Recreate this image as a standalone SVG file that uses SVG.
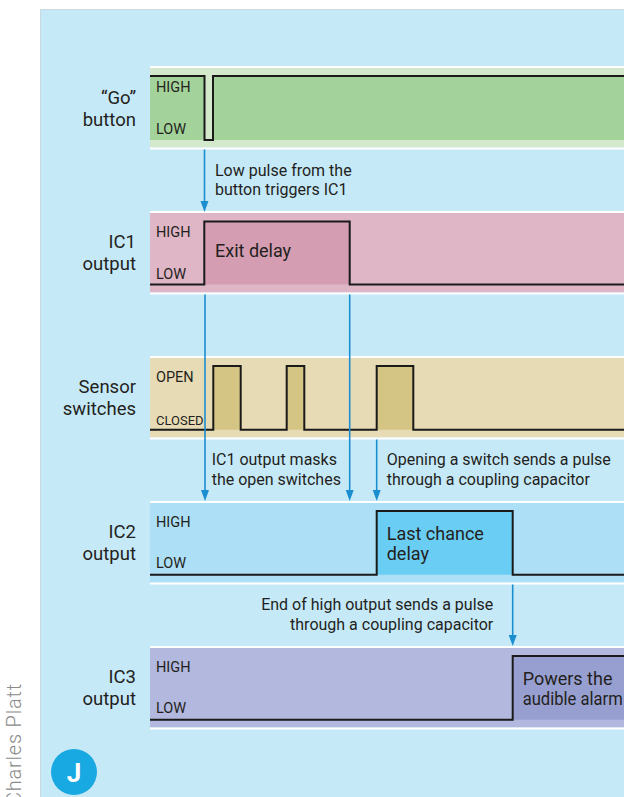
<svg xmlns="http://www.w3.org/2000/svg" width="624" height="797" viewBox="0 0 624 797">
  <style>
    text { font-family: Roboto, "Liberation Sans", sans-serif; fill: #231f20; }
    .name { font-size: 18.5px; text-anchor: end; }
    .lvl { font-size: 14.5px; }
    .lvl-s { font-size: 13px; }
    .pulse-label { font-size: 18px; }
    .note { font-size: 16px; }
    .sig { fill: none; stroke: #1a1a1a; stroke-width: 2; stroke-linejoin: miter; }
    .sep { fill: #ffffff; }
    .conn { stroke: #1b8ed0; stroke-width: 1.6; fill: none; marker-end: url(#arrow); }
  </style>
  <defs>
    <marker id="arrow" markerUnits="userSpaceOnUse" markerWidth="12" markerHeight="10" viewBox="0 -5 12 10" refX="7" refY="0" orient="auto">
      <path d="M0,-4 L11,0 L0,4 Z" fill="#1b8ed0"/>
    </marker>
  </defs>

  <!-- page and panel -->
  <rect x="0" y="0" width="624" height="797" fill="#ffffff"/>
  <rect x="40.5" y="9.5" width="600" height="800" fill="#c6e9f8" stroke="#cbd8de" stroke-width="1"/>

  <!-- credit -->
  <text transform="translate(21,683) rotate(-90)" text-anchor="end" font-size="20" font-weight="300" letter-spacing="0.8" style="fill:#8a8a8a">Charles Platt</text>

  <!-- figure badge -->
  <g id="badge">
    <circle cx="74" cy="772" r="23" fill="#19a9e2"/>
    <text x="74" y="781.5" text-anchor="middle" font-size="26" font-weight="bold" style="fill:#ffffff">J</text>
  </g>

  <!-- "Go" button trace -->
  <g id="go-button">
    <rect class="sep" x="150" y="66" width="474" height="2"/>
    <rect x="150" y="68" width="474" height="79.5" fill="#d4e8cb"/>
    <rect class="sep" x="150" y="147.5" width="474" height="2"/>
    <path d="M150,76 H204.5 V140 H150 Z M213,76 H624 V140 H213 Z" fill="#a3d39a"/>
    <path class="sig" d="M150,76 H204.5 V140 H213 V76 H624"/>
    <text class="lvl" x="156" y="91.7">HIGH</text>
    <text class="lvl" x="156" y="134.3">LOW</text>
    <text class="name" x="136" y="104">“Go”</text>
    <text class="name" x="136" y="126">button</text>
  </g>

  <!-- IC1 output trace -->
  <g id="ic1">
    <rect class="sep" x="150" y="211" width="474" height="2"/>
    <rect x="150" y="213" width="474" height="79.5" fill="#dfb6c6"/>
    <rect class="sep" x="150" y="292.5" width="474" height="2"/>
    <rect x="204.3" y="221.5" width="145.4" height="63" fill="#d49db1"/>
    <path class="sig" d="M150,284.5 H204.3 V221.5 H349.7 V284.5 H624"/>
    <text class="lvl" x="156" y="236.7">HIGH</text>
    <text class="lvl" x="156" y="279">LOW</text>
    <text class="pulse-label" x="215" y="257.3">Exit delay</text>
    <text class="name" x="136" y="248.3">IC1</text>
    <text class="name" x="136" y="270">output</text>
  </g>

  <!-- Sensor switches trace -->
  <g id="sensors">
    <rect class="sep" x="150" y="356" width="474" height="2"/>
    <rect x="150" y="358" width="474" height="79.5" fill="#e7dbb5"/>
    <rect class="sep" x="150" y="437.5" width="474" height="2"/>
    <path d="M213.3,366 H240.7 V429.7 H213.3 Z M286.7,366 H304.3 V429.7 H286.7 Z M376.7,366 H413.3 V429.7 H376.7 Z" fill="#d5c585"/>
    <path class="sig" d="M150,429.7 H213.3 V366 H240.7 V429.7 H286.7 V366 H304.3 V429.7 H376.7 V366 H413.3 V429.7 H624"/>
    <text class="lvl" x="156" y="381.7">OPEN</text>
    <text class="lvl-s" x="156" y="425">CLOSED</text>
    <text class="name" x="136" y="393.3">Sensor</text>
    <text class="name" x="136" y="415">switches</text>
  </g>

  <!-- IC2 output trace -->
  <g id="ic2">
    <rect class="sep" x="150" y="501" width="474" height="2"/>
    <rect x="150" y="503" width="474" height="79.5" fill="#ade0f6"/>
    <rect class="sep" x="150" y="582.5" width="474" height="2"/>
    <rect x="376.7" y="511" width="136" height="63.7" fill="#6acdf3"/>
    <path class="sig" d="M150,574.7 H376.7 V511 H512.7 V574.7 H624"/>
    <text class="lvl" x="156" y="526.7">HIGH</text>
    <text class="lvl" x="156" y="567.7">LOW</text>
    <text class="pulse-label" x="386.7" y="540">Last chance</text>
    <text class="pulse-label" x="386.7" y="559.5">delay</text>
    <text class="name" x="136" y="538">IC2</text>
    <text class="name" x="136" y="560">output</text>
  </g>

  <!-- IC3 output trace -->
  <g id="ic3">
    <rect class="sep" x="150" y="646" width="474" height="2"/>
    <rect x="150" y="648" width="474" height="79.5" fill="#b2b8de"/>
    <rect class="sep" x="150" y="727.5" width="474" height="2"/>
    <rect x="512.7" y="656" width="111.3" height="63.7" fill="#979fd0"/>
    <path class="sig" d="M150,719.7 H512.7 V656 H624"/>
    <text class="lvl" x="156" y="671.7">HIGH</text>
    <text class="lvl" x="156" y="713.3">LOW</text>
    <text class="pulse-label" x="522.7" y="685">Powers the</text>
    <text class="pulse-label" x="522.7" y="705" textLength="100" lengthAdjust="spacingAndGlyphs">audible alarm</text>
    <text class="name" x="136" y="683">IC3</text>
    <text class="name" x="136" y="705">output</text>
  </g>

  <!-- cause-and-effect connectors -->
  <g id="connectors">
    <line class="conn" x1="204.5" y1="149.5" x2="204.5" y2="208"/>
    <line class="conn" x1="205" y1="294.5" x2="205" y2="497"/>
    <line class="conn" x1="349.7" y1="294.5" x2="349.7" y2="497"/>
    <line class="conn" x1="376.7" y1="439.5" x2="376.7" y2="497"/>
    <line class="conn" x1="512.7" y1="584.5" x2="512.7" y2="642"/>
  </g>

  <!-- connector notes -->
  <g id="notes">
    <text class="note" x="215" y="175.7">Low pulse from the</text>
    <text class="note" x="215" y="195">button triggers IC1</text>
    <text class="note" x="211.7" y="465">IC1 output masks</text>
    <text class="note" x="211.7" y="485">the open switches</text>
    <text class="note" x="386.7" y="465">Opening a switch sends a pulse</text>
    <text class="note" x="386.7" y="485">through a coupling capacitor</text>
    <text class="note" x="493.3" y="610" text-anchor="end">End of high output sends a pulse</text>
    <text class="note" x="493.3" y="630" text-anchor="end">through a coupling capacitor</text>
  </g>
</svg>
